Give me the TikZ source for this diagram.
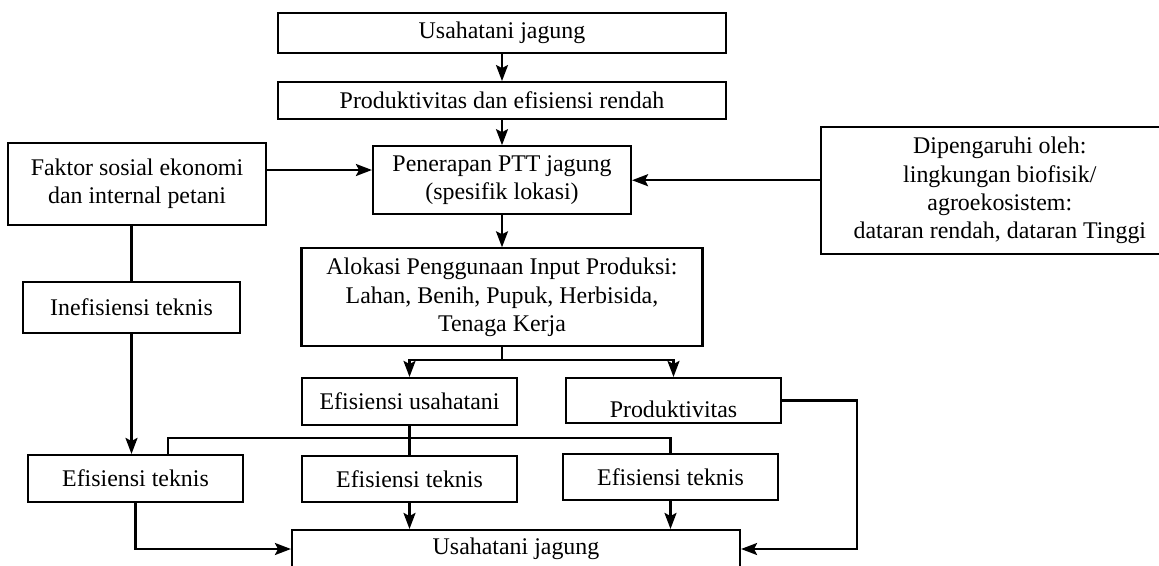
\documentclass[tikz,border=0pt]{standalone}
\usepackage{fontspec}
\setmainfont{Liberation Serif}
\usetikzlibrary{positioning,arrows.meta}
\tikzset{>={Stealth[width=2.4mm,length=3.2mm,inset=0.6mm]}}
\tikzset{kotak/.style={draw, line width=1.2pt, inner sep=0pt, align=center, font=\fontsize{13.6}{16.1}\selectfont}}
\tikzset{garis/.style={line width=1.2pt}}

\begin{document}
\begin{tikzpicture}[x=0.2mm,y=-0.2mm]
		\useasboundingbox (0,0) rectangle (1159,565);
		\node(A1) [kotak, minimum width=89.6mm, minimum height=8mm] at (502,33)		{Usahatani jagung};
		\node(A2) [kotak, minimum width=89.6mm, minimum height=7.4mm, below=5.4mm of A1]	{Produktivitas dan efisiensi rendah};
		\node(B2) [kotak, minimum width=51.6mm, minimum height=13.6mm, below=5mm of A2]	{Penerapan PTT jagung\\(spesifik lokasi)};
		\node(B1) [kotak, minimum width=51.6mm, minimum height=16.4mm] at (137,184)	{Faktor sosial ekonomi\\dan internal petani};
		\node(B3) [kotak, minimum width=71.5mm, minimum height=25.4mm, anchor=west] at (820,190.5)	{Dipengaruhi oleh:\\lingkungan biofisik/\\agroekosistem:\\dataran rendah, dataran Tinggi};
		\node(C1) [kotak, minimum width=43.4mm, minimum height=10.2mm] at (131.5,307.5)	{Inefisiensi teknis};
		\node(C2) [kotak, minimum width=80.2mm, minimum height=19.6mm, below=6.4mm of B2]	{Alokasi Penggunaan Input Produksi:\\Lahan, Benih, Pupuk, Herbisida,\\Tenaga Kerja};
		\node(D1) [kotak, minimum width=43mm, minimum height=9.4mm] at (409.5,401.5)	{Efisiensi usahatani};
		\node(D2) [kotak, minimum width=43mm, minimum height=9mm, text height=7.5mm, text depth=0.9mm] at (673.5,400.5)	{Produktivitas};
		\node(E1) [kotak, minimum width=43mm, minimum height=9.4mm] at (135.5,478.5)	{Efisiensi teknis};
		\node(E2) [kotak, minimum width=43mm, minimum height=9.2mm, below=5.8mm of D1]	{Efisiensi teknis};
		\node(E3) [kotak, minimum width=43mm, minimum height=9.2mm] at (670.5,477)	{Efisiensi teknis};
		\node(F1) [kotak, minimum width=89.6mm, minimum height=7.6mm] at (516,549)	{Usahatani jagung};
		
		\coordinate(b1e) at ([yshift=2.8mm]B1.east);
		\coordinate(c2b) at ([yshift=-2.6mm]C2.south);
		\coordinate(h1)  at ([yshift=3.4mm]E2.north);
		\coordinate(e1t) at ([xshift=6.5mm]E1.north);
		
		\draw[garis,->](A1) -- (A2);
		\draw[garis,->](A2) -- (B2);
		\draw[garis,->](B2) -- (C2);
		\draw[garis,->](b1e) -- (b1e -| B2.west);
		\draw[garis,->](B3.west |- B2.east) -- (B2.east);
		
		\draw[garis](C1.north |- B1.south) -- (C1.north);
		\draw[garis,->](C1.south) -- (C1.south |- E1.north);
		
		\draw[garis](C2.south) -- (c2b);
		\draw[garis,->](c2b) -| (D1.north);
		\draw[garis,->](c2b) -| (D2.north);
		
		\draw[garis](D1) -- (E2);
		\draw[garis](e1t) |- (h1) -| (E3.north);
		
		\draw[garis,->](E1.south) |- (F1.west);
		\draw[garis,->](E2.south) -- (E2.south |- F1.north);
		\draw[garis,->](E3.south) -- (E3.south |- F1.north);
		\draw[garis,->](D2.east) -- ++(15mm,0) |- (F1.east);
	\end{tikzpicture}
\end{document}
